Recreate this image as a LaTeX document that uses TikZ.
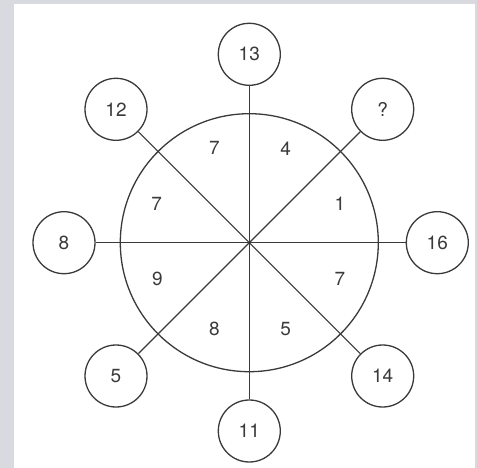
\documentclass[tikz,border=0pt]{standalone}
\usepackage{fontspec}
\setmainfont{TeX Gyre Heros}
\definecolor{bggray}{HTML}{D8DADF}
\definecolor{ink}{HTML}{3A3A3A}
\begin{document}
\begin{tikzpicture}[x=1pt,y=-1pt,
  outer/.style={circle,draw=ink,line width=1.3pt,minimum size=62pt,inner sep=0pt,font=\fontsize{19}{19}\selectfont,text=ink},
  num/.style={font=\fontsize{19}{19}\selectfont,text=ink},
  spoke/.style={draw=ink,line width=1.1pt}]
\useasboundingbox (0,0) rectangle (477,468);
\fill[bggray] (0,0) rectangle (477,468);
\fill[white] (14,4) rectangle (475,468);
\coordinate (c) at (249.3,242.7);
\node[circle,draw=ink,line width=1.3pt,minimum size=258pt,inner sep=0pt] (big) at (c) {};
\node[outer] (n13) at (249.3,54.3) {13};
\node[outer] (nq) at (382.7,109.3) {?};
\node[outer] (n16) at (437.3,242.7) {16};
\node[outer] (n14) at (382.7,376) {14};
\node[outer] (n11) at (249.3,431) {11};
\node[outer] (n5) at (116,376) {5};
\node[outer] (n8) at (64,242.7) {8};
\node[outer] (n12) at (116,109.3) {12};
\foreach \n in {n13,nq,n16,n14,n11,n5,n8,n12}
  \draw[spoke] (c) -- (\n);
\node[num] (a1) at (214.3,148.3) {7};
\node[num] (a2) at (285.7,148.3) {4};
\node[num] (a3) at (340,204) {1};
\node[num] (a4) at (340,279.3) {7};
\node[num] (a5) at (285.7,329.3) {5};
\node[num] (a6) at (214.3,329.3) {8};
\node[num] (a7) at (157.3,279.3) {9};
\node[num] (a8) at (156.7,204) {7};
\end{tikzpicture}
\end{document}
